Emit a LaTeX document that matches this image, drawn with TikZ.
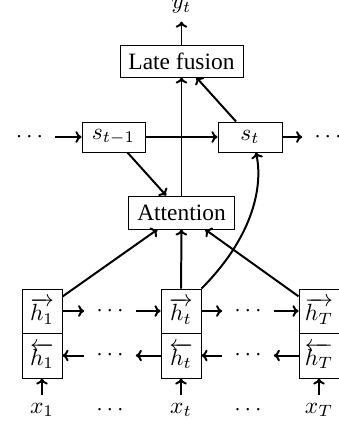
\documentclass[tikz,border=0pt]{standalone}
\usepackage{fontspec}
\setmainfont{Liberation Serif}
\usetikzlibrary{arrows.meta}
\begin{document}
\begin{tikzpicture}[x=0.427pt,y=-0.427pt,
  box/.style={draw, line width=0.4pt, inner sep=0pt},
  arr/.style={-{To[width=5pt,length=2.6pt]}, line width=0.85pt},
  dotsn/.style={inner xsep=5pt, inner ysep=1pt}]
\useasboundingbox (0,0) rectangle (339,432);
% top part
\node[box, minimum width=123*0.427pt, minimum height=32*0.427pt] (late) at (181.5,61) {Late fusion};
\node (yt) at (181.5,6) {$y_t$};
\node[box, minimum width=63*0.427pt, minimum height=30*0.427pt] (sprev) at (113.5,137) {$s_{t-1}$};
\node[box, minimum width=64*0.427pt, minimum height=30*0.427pt] (s) at (250,137) {$s_t$};
\node[dotsn] (ld) at (29.5,137) {$\cdots$};
\node[dotsn] (rd) at (328,137) {$\cdots$};
\node[box, minimum width=106*0.427pt, minimum height=33*0.427pt] (att) at (181.5,212.5) {Attention};
% encoder
\foreach \n/\x in {1/42, t/181, T/319}{
  \node[box, minimum width=40*0.427pt, minimum height=44*0.427pt] (h\n f) at (\x,311) {$\overrightarrow{h_\n}$};
  \node[box, minimum width=40*0.427pt, minimum height=45*0.427pt] (h\n b) at (\x,355.5) {$\overleftarrow{h_\n}$};
  \node (x\n) at (\x,410) {$x_\n$};
}
\node[dotsn] (d1f) at (110,311) {$\cdots$};
\node[dotsn] (d2f) at (248,311) {$\cdots$};
\node[dotsn] (d1b) at (110,355.5) {$\cdots$};
\node[dotsn] (d2b) at (248,355.5) {$\cdots$};
\node (dx1) at (110,410) {$\cdots$};
\node (dx2) at (248,410) {$\cdots$};
% connectors
\draw[arr] (late) -- (yt);
\draw[arr] (ld) -- (sprev);
\draw[arr] (sprev) -- (s);
\draw[arr] (s) -- (rd);
\draw[arr] (att) -- (late);
\draw[arr] (s) -- (late);
\draw[arr] (sprev) -- (att);
\draw[arr] (h1f) -- (att);
\draw[arr] (htf) -- (att);
\draw[arr] (hTf) -- (att);
\draw[arr] (htf.north east) .. controls (250,240) and (264,190) .. ([xshift=6*0.427pt]s.south);
\draw[arr] (h1f) -- (d1f);
\draw[arr] (d1f) -- (htf);
\draw[arr] (htf) -- (d2f);
\draw[arr] (d2f) -- (hTf);
\draw[arr] (d1b) -- (h1b);
\draw[arr] (htb) -- (d1b);
\draw[arr] (d2b) -- (htb);
\draw[arr] (hTb) -- (d2b);
\draw[arr] (x1) -- (h1b);
\draw[arr] (xt) -- (htb);
\draw[arr] (xT) -- (hTb);
\end{tikzpicture}
\end{document}
